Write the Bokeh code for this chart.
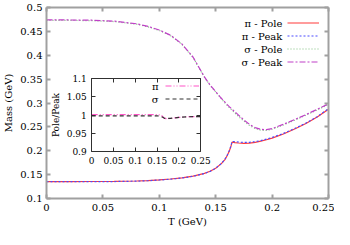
from bokeh.plotting import figure
from bokeh.models import Range1d, LinearAxis, FixedTicker, Legend, LegendItem, Label
from bokeh.core.properties import value
from bokeh.embed import file_html
from bokeh.resources import INLINE

# ---------------- data ----------------
T = [0.0, 0.02, 0.04, 0.06, 0.08, 0.09, 0.10, 0.11, 0.12, 0.13, 0.14, 0.145, 0.15,
     0.155, 0.158, 0.16, 0.162, 0.1635, 0.1645, 0.167, 0.17, 0.175, 0.18, 0.185,
     0.19, 0.195, 0.20, 0.21, 0.22, 0.23, 0.24, 0.25]
pi_pole = [0.1355, 0.1355, 0.1356, 0.1358, 0.1367, 0.1376, 0.1390, 0.1408, 0.1432,
           0.1468, 0.1525, 0.1570, 0.1635, 0.1730, 0.1810, 0.1890, 0.1990, 0.2090,
           0.2180, 0.2170, 0.2162, 0.2155, 0.2160, 0.2175, 0.2200, 0.2230, 0.2265,
           0.2350, 0.2455, 0.2570, 0.2705, 0.2870]
pi_peak = [0.1352, 0.1352, 0.1353, 0.1355, 0.1364, 0.1373, 0.1387, 0.1405, 0.1429,
           0.1465, 0.1522, 0.1568, 0.1634, 0.1732, 0.1815, 0.1897, 0.1999, 0.2101,
           0.2195, 0.2190, 0.2183, 0.2173, 0.2177, 0.2190, 0.2213, 0.2243, 0.2278,
           0.2362, 0.2466, 0.2580, 0.2714, 0.2880]
sigma_pole = [0.4730, 0.4730, 0.4725, 0.4705, 0.4650, 0.4595, 0.4520, 0.4410, 0.4230,
              0.3950, 0.3540, 0.3370, 0.3230, 0.3090, 0.3010, 0.2955, 0.2905, 0.2870,
              0.2845, 0.2790, 0.2725, 0.2620, 0.2530, 0.2465, 0.2430, 0.2425, 0.2450,
              0.2540, 0.2640, 0.2745, 0.2855, 0.2970]
sigma_peak = [0.4739, 0.4739, 0.4734, 0.4714, 0.4659, 0.4604, 0.4529, 0.4419, 0.4238,
              0.3958, 0.3547, 0.3377, 0.3237, 0.3099, 0.3022, 0.2970, 0.2925, 0.2893,
              0.2870, 0.2816, 0.2752, 0.2645, 0.2553, 0.2485, 0.2448, 0.2441, 0.2464,
              0.2553, 0.2653, 0.2757, 0.2867, 0.2982]

T_ratio = [0.0, 0.05, 0.10, 0.14, 0.15, 0.155, 0.16, 0.163, 0.166, 0.17, 0.18, 0.19,
           0.20, 0.22, 0.25]
pi_ratio = [1.0015, 1.0015, 1.0015, 1.0015, 1.0012, 1.0005, 0.999, 0.996, 0.992,
            0.9905, 0.9905, 0.9925, 0.994, 0.9955, 0.996]
sigma_ratio = [0.998, 0.998, 0.998, 0.998, 0.998, 0.9975, 0.996, 0.994, 0.992,
               0.991, 0.991, 0.9925, 0.994, 0.9955, 0.996]

x_ticks = [0.0, 0.05, 0.1, 0.15, 0.2, 0.25]
x_tick_labels = ["0", "0.05", "0.1", "0.15", "0.2", "0.25"]
y_ticks = [0.1, 0.15, 0.2, 0.25, 0.3, 0.35, 0.4, 0.45, 0.5]
y_tick_labels = ["0.1", "0.15", "0.2", "0.25", "0.3", "0.35", "0.4", "0.45", "0.5"]
inset_x_ticks = [0.0, 0.05, 0.1, 0.15, 0.2, 0.25]
inset_x_tick_labels = ["0", "0.05", "0.1", "0.15", "0.2", "0.25"]
inset_y_ticks = [0.9, 0.95, 1.0, 1.05, 1.1]
inset_y_tick_labels = ["0.9", "0.95", "1", "1.05", "1.1"]

main_legend = ["π - Pole", "π - Peak", "σ - Pole", "σ - Peak"]
inset_legend = ["π", "σ"]
x_title = "T (GeV)"
y_title = "Mass (GeV)"
inset_y_title = "Pole/Peak"

# ---------------- layout / style ----------------
FONT = "DejaVu Serif"
FS = "10px"
FS_IN = "9px"
W, H = 334, 229
BL, BR, BT, BB = 41, 6, 7, 31
FW, FH = W - BL - BR, H - BT - BB
GRAY = "#a0a0a0"
DARK = "#303030"

# inset position as fractions of the main frame
IX0, IX1 = 0.1603, 0.5470      # from left
IY0, IY1 = 0.3706, 0.7563      # from top

p = figure(width=W, height=H, output_backend="svg", toolbar_location=None,
           x_range=Range1d(x_ticks[0], x_ticks[-1]), y_range=Range1d(y_ticks[0], y_ticks[-1]),
           x_axis_type=None, y_axis_type=None,
           min_border_left=BL, min_border_right=BR, min_border_top=BT, min_border_bottom=BB)
p.outline_line_color = None
p.background_fill_color = "white"
p.border_fill_color = "white"

xlo, xhi = inset_x_ticks[0], inset_x_ticks[-1]
ylo, yhi = inset_y_ticks[0], inset_y_ticks[-1]
ix_span = (xhi - xlo) / (IX1 - IX0)
ix_start = xlo - IX0 * ix_span
iy_span = (yhi - ylo) / (IY1 - IY0)
iy_start = ylo - (1 - IY1) * iy_span
p.extra_x_ranges = {"ix": Range1d(ix_start, ix_start + ix_span)}
p.extra_y_ranges = {"iy": Range1d(iy_start, iy_start + iy_span)}


def style(ax, color, width, ticks, labels, show, fs=FS):
    ax.ticker = FixedTicker(ticks=ticks)
    ax.axis_line_color = color
    ax.axis_line_width = width
    ax.major_tick_line_color = color
    ax.major_tick_line_width = width
    ax.major_tick_in = 4
    ax.major_tick_out = 0
    ax.minor_tick_line_color = None
    ax.major_label_text_font = FONT
    ax.major_label_text_color = "black"
    ax.axis_label_text_font = FONT
    ax.axis_label_text_font_style = "normal"
    ax.axis_label_text_font_size = fs
    ax.axis_label_text_color = "black"
    if show:
        ax.major_label_overrides = dict(zip(ticks, labels))
        ax.major_label_text_font_size = fs
    else:
        ax.major_label_overrides = {t: "" for t in ticks}
        ax.major_label_text_font_size = "0px"
        ax.major_label_standoff = 0


# main axes
ab = LinearAxis(axis_label=x_title)
style(ab, GRAY, 2, x_ticks, x_tick_labels, True)
ab.major_label_standoff = 5
ab.axis_label_standoff = 2
p.add_layout(ab, "below")
al = LinearAxis(axis_label=y_title)
style(al, GRAY, 2, y_ticks, y_tick_labels, True)
al.major_label_standoff = 4
al.axis_label_standoff = 3
p.add_layout(al, "left")
aa = LinearAxis()
style(aa, GRAY, 2, x_ticks, x_tick_labels, False)
p.add_layout(aa, "above")
ar = LinearAxis()
style(ar, GRAY, 2, y_ticks, y_tick_labels, False)
p.add_layout(ar, "right")

# main curves
r1 = p.line(T, pi_pole, line_color="#ff3a3a", line_width=1.2)
r2 = p.line(T, pi_peak, line_color="#4a4aff", line_width=1.2, line_dash="2 2")
r3 = p.line(T, sigma_pole, line_color="#7fbf7f", line_width=1.2, line_dash="1 2")
r4 = p.line(T, sigma_peak, line_color="#c040c8", line_width=1.2, line_dash="6 2 2 2")

# inset axes
ib = LinearAxis(x_range_name="ix", y_range_name="iy", fixed_location=ylo, bounds=(xlo, xhi))
style(ib, DARK, 1, inset_x_ticks, inset_x_tick_labels, True, FS_IN)
ib.major_label_standoff = 5
p.add_layout(ib, "below")
il = LinearAxis(x_range_name="ix", y_range_name="iy", fixed_location=xlo, bounds=(ylo, yhi),
                axis_label=inset_y_title)
style(il, DARK, 1, inset_y_ticks, inset_y_tick_labels, True, FS_IN)
il.major_label_standoff = 5
il.axis_label_standoff = 2
p.add_layout(il, "left")
it = LinearAxis(x_range_name="ix", y_range_name="iy", fixed_location=yhi, bounds=(xlo, xhi))
style(it, DARK, 1, inset_x_ticks, inset_x_tick_labels, False)
p.add_layout(it, "above")
ir = LinearAxis(x_range_name="ix", y_range_name="iy", fixed_location=xhi, bounds=(ylo, yhi))
style(ir, DARK, 1, inset_y_ticks, inset_y_tick_labels, False)
p.add_layout(ir, "right")

# inset curves
r5 = p.line(T_ratio, pi_ratio, x_range_name="ix", y_range_name="iy",
            line_color="#ff55c8", line_width=1.2, line_dash="6 2 1 2 1 2")
r6 = p.line(T_ratio, sigma_ratio, x_range_name="ix", y_range_name="iy",
            line_color=DARK, line_width=1.2, line_dash="4 3")

# main legend (samples) + right-aligned texts
LM, GW, RH = 9, 32, 13
leg = Legend(items=[LegendItem(label=value(""), renderers=[r]) for r in (r1, r2, r3, r4)],
             location="top_right", margin=LM, padding=0, spacing=0, glyph_width=GW,
             glyph_height=RH, label_height=RH, label_width=0, label_standoff=0,
             label_text_font=FONT, label_text_font_size=FS,
             background_fill_alpha=0, border_line_color=None)
p.add_layout(leg)
y0, y1 = y_ticks[0], y_ticks[-1]
x0, x1 = x_ticks[0], x_ticks[-1]
lx = x0 + (FW - LM - GW - 6) / FW * (x1 - x0)
for i, name in enumerate(main_legend):
    ly = y1 - (LM + RH / 2 + RH * i) / FH * (y1 - y0)
    p.add_layout(Label(x=lx, y=ly, text=name, text_align="right", text_baseline="middle",
                       text_font=FONT, text_font_size=FS, text_color="black"))

# inset legend
IGW = 34
inset_w_px = (IX1 - IX0) * FW
inset_h_px = (IY1 - IY0) * FH
ivx = IX0 * FW + 73
ivy = FH - (IY0 * FH + 1.5 + 2 * RH)
ileg = Legend(items=[LegendItem(label=value(""), renderers=[r]) for r in (r5, r6)],
              location=(ivx, ivy), margin=0, padding=0, spacing=0, glyph_width=IGW,
              glyph_height=RH, label_height=RH, label_width=0, label_standoff=0,
              label_text_font=FONT, label_text_font_size=FS,
              background_fill_alpha=0, border_line_color=None)
p.add_layout(ileg)
ilx = xlo + (73 - 5) / inset_w_px * (xhi - xlo)
for i, name in enumerate(inset_legend):
    ily = yhi - (8 + RH * i) / inset_h_px * (yhi - ylo)
    p.add_layout(Label(x=ilx, y=ily, x_range_name="ix", y_range_name="iy", text=name,
                       text_align="right", text_baseline="middle",
                       text_font=FONT, text_font_size=FS, text_color="black"))

open("out.html", "w").write(file_html(p, INLINE))
